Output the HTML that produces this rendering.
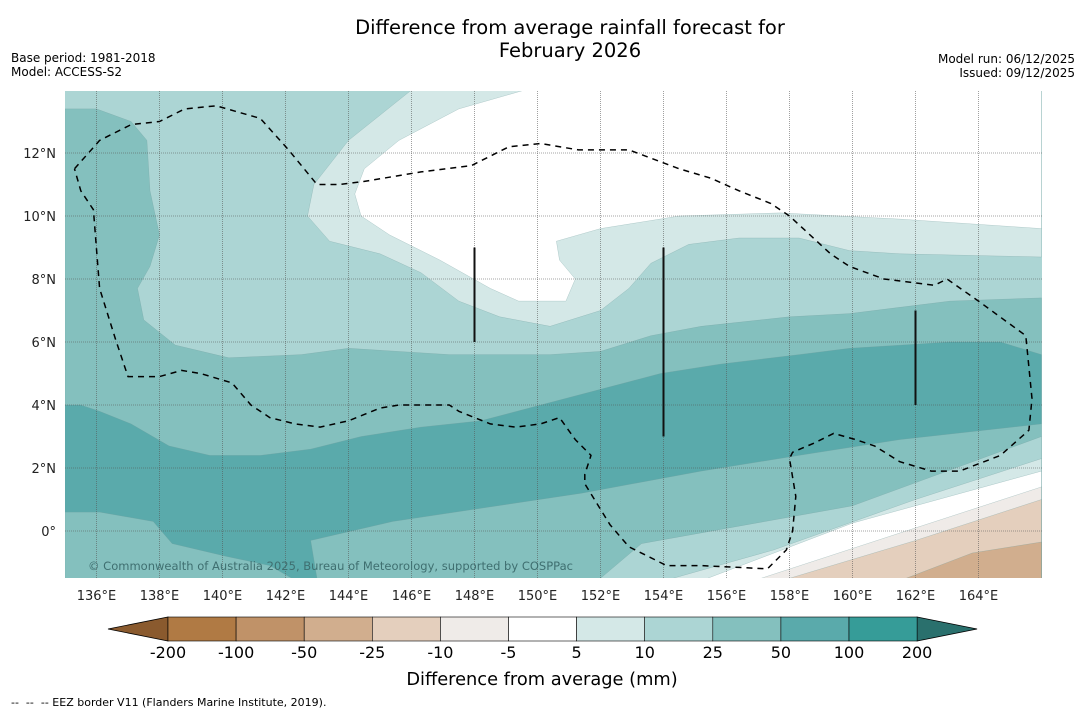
<!DOCTYPE html>
<html><head><meta charset="utf-8"><style>
html,body{margin:0;padding:0;background:#fff;}
body{width:1085px;height:713px;overflow:hidden;font-family:"Liberation Sans","DejaVu Sans",sans-serif;}
svg text{font-family:"DejaVu Sans","Liberation Sans",sans-serif;white-space:pre;}
</style></head><body>
<svg id="chart" width="1085" height="713" viewBox="0 0 1085 713" xmlns="http://www.w3.org/2000/svg">
<text x="570" y="34" font-size="19.5" text-anchor="middle">Difference from average rainfall forecast for</text>
<text x="570" y="57" font-size="19.5" text-anchor="middle">February 2026</text>
<text x="11" y="62" font-size="12">Base period: 1981-2018</text>
<text x="11" y="76" font-size="12">Model: ACCESS-S2</text>
<text x="1075" y="63" font-size="12" text-anchor="end">Model run: 06/12/2025</text>
<text x="1075" y="77" font-size="12" text-anchor="end">Issued: 09/12/2025</text>
<defs><clipPath id="mapclip"><rect x="65" y="91" width="977" height="487"/></clipPath></defs>
<g id="map" clip-path="url(#mapclip)"></g>
<g id="axes"></g>
<g id="cbar"></g>
<text x="542" y="685" font-size="17.8" text-anchor="middle">Difference from average (mm)</text>
<text x="11" y="706" font-size="11" xml:space="preserve">--  --  -- EEZ border V11 (Flanders Marine Institute, 2019).</text>
</svg>
<script>
const lonTicks=[136,138,140,142,144,146,148,150,152,154,156,158,160,162,164];
const latTicks=[0,2,4,6,8,10,12];
const cbarLabels=["-200","-100","-50","-25","-10","-5","5","10","25","50","100","200"];
const cbarColors=["#b07a44","#c09268","#d1ae8e","#e4cfbd","#efebe8","#ffffff","#d4e8e7","#acd5d4","#84c0be","#5aaaab","#369c98"];
const cbarLowColor="#8a5a2e", cbarHighColor="#2a706d";
const zoneLevel25=[[135,13.4],[136,13.4],[137.1,13],[137.6,12.4],[137.7,10.8],[138,9.4],[137.7,8.4],[137.3,7.7],[137.5,6.7],[138.5,5.9],[140.2,5.5],[142.5,5.6],[144,5.8],[147.2,5.6],[150.4,5.6],[152,5.7],[153.6,6.2],[155.2,6.5],[158,6.8],[159.9,6.9],[163.1,7.3],[166,7.4],[166,-1.5],[135,-1.5]];
const zoneLevel5=[[146,14],[144,12.4],[142.9,11],[142.7,10],[143.4,9.2],[145,8.8],[146.3,8.2],[147.5,7.3],[148.8,6.8],[150.4,6.5],[152,7],[152.9,7.7],[153.6,8.5],[154.8,9.1],[156.4,9.3],[158.3,9.3],[159.9,8.9],[161.5,8.8],[166,8.7],[166,14]];
const zoneWhiteTop=[[149.6,14],[147.5,13.4],[145.6,12.4],[144.5,11.5],[144.2,10.7],[144.4,10],[145.3,9.4],[146.9,8.6],[148.5,7.7],[149.4,7.3],[150.9,7.3],[151.2,8],[150.7,8.6],[150.6,9.2],[152,9.6],[154.5,10],[157.7,10.1],[161.5,9.9],[166,9.6],[166,14]];
const zoneLevel50=[[135,4],[135.5,4],[136.1,3.8],[137.1,3.4],[138.3,2.7],[139.6,2.4],[141.2,2.4],[142.8,2.6],[144.4,3],[146.3,3.3],[148.2,3.5],[150.1,4],[152,4.5],[153.9,5],[155.8,5.3],[158.3,5.6],[159.9,5.8],[163.1,6],[164.7,6],[166,5.6],[166,3.4],[161.5,2.9],[158.3,2.4],[155.2,1.9],[151.4,1.2],[145.4,0.3],[142.8,-0.3],[143,-1.5],[142.2,-1.5],[141.5,-1.1],[140.1,-0.8],[138.4,-0.4],[137.8,0.3],[136.1,0.6],[135,0.6]];
const zoneSE10=[[152,-1.5],[153.3,-0.4],[160,0.8],[166,3.0],[166,-1.5]];
const zoneSE5=[[154.3,-1.5],[157.5,-0.6],[162,1],[166,2.3],[166,-1.5]];
const zoneSEwhite=[[155.4,-1.5],[160,0.25],[166,1.9],[166,-1.5]];
const zoneSEm5=[[157.1,-1.5],[162,0.1],[166,1.4],[166,-1.5]];
const zoneSEm10=[[158,-1.5],[162,-0.3],[166,1],[166,-1.5]];
const zoneSEm25=[[161.7,-1.5],[163.8,-0.7],[166,-0.35],[166,-1.5]];
const eezBorder=[[135.3,11.5],[136.1,12.4],[137.1,12.9],[138,13],[138.8,13.4],[139.8,13.5],[141.2,13.1],[142.1,12.1],[143,11],[143.7,11],[144.5,11.1],[146.3,11.4],[147.9,11.6],[148.5,11.9],[149.1,12.2],[150.1,12.3],[151.3,12.1],[152,12.1],[152.9,12.1],[153.7,11.8],[154.5,11.5],[155.5,11.2],[156.4,10.8],[157.4,10.4],[158,10],[159.3,8.8],[159.9,8.4],[161,8],[162.6,7.8],[163,8],[164,7.3],[165.5,6.2],[165.7,4.2],[165.6,3.2],[164.7,2.4],[163.4,1.9],[162.5,1.9],[161.5,2.2],[160.7,2.7],[160.1,2.9],[159.4,3.1],[158.8,2.8],[158.1,2.5],[158,2.3],[158.2,1.1],[158.1,0],[157.9,-0.6],[157.3,-1.2],[155.2,-1.1],[154.1,-1.1],[152.9,-0.5],[152.3,0.2],[151.5,1.5],[151.5,1.8],[151.7,2.4],[151.2,2.9],[150.7,3.6],[150.1,3.4],[149.3,3.3],[148.5,3.4],[147.5,3.8],[147.2,4],[145.6,4],[145,3.9],[144,3.5],[143.1,3.3],[142.3,3.4],[141.5,3.6],[140.9,4],[140.3,4.7],[139.3,5],[138.7,5.1],[138,4.9],[137,4.9],[136.6,6.1],[136.1,7.7],[135.9,10.2],[135.5,10.8],[135.3,11.5]];
const meridianSegments=[[148,9,6],[154,9,3],[162,7,4]];

const NS="http://www.w3.org/2000/svg";
const PX=31.5;
function xs(lon){return 65+(lon-135)*PX;}
function ys(lat){return 531-lat*PX;}
function mk(tag,attrs,parent){const e=document.createElementNS(NS,tag);for(const k in attrs)e.setAttribute(k,attrs[k]);parent.appendChild(e);return e;}
function pts(arr){return arr.map(p=>xs(p[0]).toFixed(1)+","+ys(p[1]).toFixed(1)).join(" ");}
const map=document.getElementById('map'),axes=document.getElementById('axes'),cbar=document.getElementById('cbar');

let bg=mk('rect',{x:65,y:91,width:977,height:487,fill:"#acd5d4"},map);


const zones=[[zoneLevel5,"#d4e8e7","zone-5-10-north"],[zoneWhiteTop,"#ffffff","zone-neutral-north"],[zoneLevel25,"#84c0be","zone-25-50"],[zoneLevel50,"#5aaaab","zone-50-100"],[zoneSE10,"#acd5d4","zone-10-25-southeast"],[zoneSE5,"#d4e8e7","zone-5-10-southeast"],[zoneSEwhite,"#ffffff","zone-neutral-southeast"],[zoneSEm5,"#efebe8","zone-minus5-minus10"],[zoneSEm10,"#e4cfbd","zone-minus10-minus25"],[zoneSEm25,"#d1ae8e","zone-minus25-minus50"]];
zones.forEach(z=>{
  const p=mk('polygon',{points:pts(z[0]),fill:z[1],stroke:"#6f9c9c","stroke-width":0.4,"stroke-opacity":0.6,"stroke-linejoin":"round"},map);
  
  
});
lonTicks.forEach(l=>{
  const g=mk('line',{x1:xs(l),x2:xs(l),y1:91,y2:578,stroke:"#555","stroke-width":0.8,"stroke-dasharray":"1,1","stroke-opacity":0.7},map);
  
  
});
latTicks.forEach(l=>{
  const g=mk('line',{x1:65,x2:1042,y1:ys(l),y2:ys(l),stroke:"#555","stroke-width":0.8,"stroke-dasharray":"1,1","stroke-opacity":0.7},map);
  
  
});
meridianSegments.forEach(s=>{
  const g=mk('line',{x1:xs(s[0]),x2:xs(s[0]),y1:ys(s[1]),y2:ys(s[2]),stroke:"#111","stroke-width":2},map);
  
  
});
let eez=mk('polyline',{points:pts(eezBorder),fill:"none",stroke:"#000","stroke-width":1.5,"stroke-dasharray":"6,5","stroke-linejoin":"round"},map);


let cp=mk('text',{x:88,y:570,"font-size":11.5,fill:"#3f6f70",textLength:485},map);
cp.textContent="© Commonwealth of Australia 2025, Bureau of Meteorology, supported by COSPPac";



lonTicks.forEach(l=>{
  const t=mk('text',{x:xs(l),y:600,"font-size":13,"text-anchor":"middle",fill:"#222"},axes);
  t.textContent=l+"°E";
  
  
});
latTicks.forEach(l=>{
  const t=mk('text',{x:56,y:ys(l)+5,"font-size":13,"text-anchor":"end",fill:"#222"},axes);
  t.textContent=l===0?"0°":l+"°N";
  
  
});

const cbX0=168,cbW=68.1,cbY=617,cbH=24;
let lt=mk('polygon',{points:`108,${cbY+cbH/2} ${cbX0},${cbY} ${cbX0},${cbY+cbH}`,fill:cbarLowColor,stroke:"#000","stroke-width":0.8},cbar);


const cbEnd=cbX0+cbW*cbarColors.length;
let rt=mk('polygon',{points:`${cbEnd},${cbY} ${cbEnd+60},${cbY+cbH/2} ${cbEnd},${cbY+cbH}`,fill:cbarHighColor,stroke:"#000","stroke-width":0.8},cbar);


cbarColors.forEach((c,i)=>{
  const r=mk('rect',{x:cbX0+i*cbW,y:cbY,width:cbW,height:cbH,fill:c,stroke:"#000","stroke-width":0.6},cbar);
  
  
});
cbarLabels.forEach((s,i)=>{
  const t=mk('text',{x:cbX0+i*cbW,y:658,"font-size":16,"text-anchor":"middle"},cbar);
  t.textContent=s;
  
  
});
</script>
</body></html>
